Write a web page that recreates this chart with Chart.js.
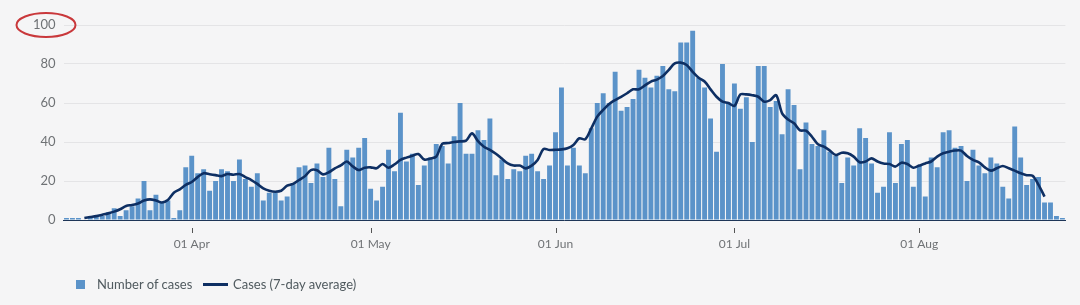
<!DOCTYPE html>
<html>
<head>
<meta charset="utf-8">
<script src="https://cdn.jsdelivr.net/npm/chart.js@4/dist/chart.umd.min.js"></script>
<style>
  html, body { margin: 0; padding: 0; background: #f5f5f6; }
  #wrap { position: relative; width: 1080px; height: 305px; background: #f5f5f6; font-family: Lato, "Noto Sans", sans-serif; }
  #cv { position: absolute; left: 0; top: 0; }
  #legend { position: absolute; left: 0; top: 274px; height: 22px; width: 1080px; font-size: 13px; color: #505a5f; }
  .sq { position: absolute; left: 76px; top: 6px; width: 9px; height: 9px; background: #5b93c9; }
  .ln { position: absolute; left: 203px; top: 9px; width: 25px; height: 3px; background: #0e2f63; }
  .t1 { position: absolute; left: 97px; top: 2px; }
  .t2 { position: absolute; left: 233px; top: 2px; }
</style>
</head>
<body>
<div id="wrap">
  <canvas id="cv" width="1080" height="305"></canvas>
  <div id="legend">
    <span class="sq"></span><span class="t1">Number of cases</span>
    <span class="ln"></span><span class="t2">Cases (7-day average)</span>
  </div>
</div>
<script>
// Categories: daily dates from 11 Mar to 25 Aug
const startDay = { month: 2, day: 11 };  // March (0-based month)
const dayCount = 168;
const monthNames = ["Jan","Feb","Mar","Apr","May","Jun","Jul","Aug","Sep","Oct","Nov","Dec"];

// Tick labels shown on the x axis
const tickLabels = ["01 Apr", "01 May", "01 Jun", "01 Jul", "01 Aug"];
const yTicks = [0, 20, 40, 60, 80, 100];

// Number of cases per day
const casesMar = [1,1,1,0,1,2,2,4,6,2,5,7,11,20,5,13,9,10,1,5,27];
const casesApr = [33,24,26,15,20,26,25,20,31,21,17,24,10,14,14,10,12,19,27,28,19,29,22,37,21,7,36,32,37,42];
const casesMay = [16,10,17,36,25,55,30,34,18,28,32,39,38,29,43,60,34,34,46,41,52,23,31,21,26,25,33,34,25,21,28];
const casesJun = [45,68,28,37,28,24,47,60,65,60,76,56,58,62,77,73,68,74,79,67,66,91,91,97,73,68,52,35,80,60];
const casesJul = [70,57,63,40,79,79,58,61,44,67,59,26,50,39,38,46,35,33,19,32,28,47,42,29,14,17,45,19,39,41,17];
const casesAug = [28,12,32,27,45,46,37,38,20,36,28,24,32,29,17,11,48,32,18,21,22,9,9,2,1];

// 7-day average per day
const avgMar = [null,null,null,1,1.5,2,2.7,3.4,4.3,5.5,7.2,7.7,8.5,10,10.6,10,9,10.3,14,15.7,18];
const avgApr = [19.5,22,24,23.5,23,22.5,23.6,23.2,23.6,22,20.5,18.5,16.2,15,14.5,15,17.6,18.5,20.5,22.5,25.6,25.5,23.4,24.5,26.5,28,30,27.5,25.6,26.8];
const avgMay = [27,26.5,28.7,26.8,28.5,30.8,32,33,33.8,31,31.5,32.5,39,39.5,40,40.3,40.7,44.4,40.5,37.6,36,34,31.5,29,27.9,27.9,26.5,27.9,30.8,36.4,35.9];
const avgJun = [36,36.2,36.8,38.5,41.9,41.4,47,53,56.5,59.5,61.5,63.2,65,67,67,69,71,72,73.8,77,80.3,80.7,79.5,76,73,71,67,63.2,60.7,60];
const avgJul = [58.5,64.4,64.4,64,63.2,60.7,61.5,64,54.7,51.5,49.6,46,45.8,42.7,38.8,37.6,35.6,33.3,34.5,34.2,32.5,29.6,30,31.6,30,29,28.7,27.4,29.4,28.7,26.8];
const avgAug = [27.9,29,30,32.5,34.2,35,35.6,35.6,32.8,30.8,29.6,27,25.3,26.5,27.7,26.5,25.3,24,23,22.7,18,12,null,null,null];

const categories = [];
for (let i = 0; i < dayCount; i++) {
  const d = new Date(Date.UTC(2020, startDay.month, startDay.day + i));
  categories.push(String(d.getUTCDate()).padStart(2, "0") + " " + monthNames[d.getUTCMonth()]);
}
const cases = [].concat(casesMar, casesApr, casesMay, casesJun, casesJul, casesAug);
const average = [].concat(avgMar, avgApr, avgMay, avgJun, avgJul, avgAug);

const BAR = "#5b93c9";
const LINE = "#0e2f63";
const TEXT = "#6f7275";

const extras = {
  id: "extras",
  afterDraw(chart) {
    const ctx = chart.ctx;
    const x = chart.scales.x, y = chart.scales.y;
    // tick marks under labelled dates
    ctx.save();
    ctx.strokeStyle = "#555";
    ctx.lineWidth = 1;
    x.ticks.forEach((t, i) => {
      if (tickLabels.includes(categories[t.value])) {
        const px = Math.round(x.getPixelForTick(i)) + 0.5;
        ctx.beginPath();
        ctx.moveTo(px, chart.chartArea.bottom + 8);
        ctx.lineTo(px, chart.chartArea.bottom + 13);
        ctx.stroke();
      }
    });
    // red ellipse highlighting the top tick label
    const cy = y.getPixelForValue(100);
    ctx.strokeStyle = "#c9383b";
    ctx.lineWidth = 2;
    ctx.beginPath();
    ctx.ellipse(y.right - 17.5, cy, 29.5, 12, 0, 0, Math.PI * 2);
    ctx.stroke();
    ctx.restore();
  }
};

new Chart(document.getElementById("cv"), {
  type: "bar",
  data: {
    labels: categories,
    datasets: [
      {
        type: "line",
        label: "Cases (7-day average)",
        data: average,
        borderColor: LINE,
        borderWidth: 2.6,
        pointRadius: 0,
        tension: 0.3,
        fill: false,
        order: 0
      },
      {
        type: "bar",
        label: "Number of cases",
        data: cases,
        backgroundColor: BAR,
        barPercentage: 0.82,
        categoryPercentage: 1.0,
        order: 1
      }
    ]
  },
  options: {
    responsive: false,
    animation: false,
    devicePixelRatio: 1,
    layout: { padding: { top: 25, right: 14.6, left: 0, bottom: 0 } },
    plugins: { legend: { display: false }, tooltip: { enabled: false } },
    scales: {
      x: {
        offset: true,
        grid: { display: false, drawTicks: false },
        border: { display: true, color: "#1d3557", width: 1 },
        ticks: {
          autoSkip: false,
          maxRotation: 0,
          padding: 17,
          color: TEXT,
          font: { family: "Lato", size: 12 },
          callback: function (v) {
            const lab = categories[v];
            return tickLabels.includes(lab) ? lab : "";
          }
        },
        afterFit(scale) { scale.height = 85; }
      },
      y: {
        min: 0, max: 100,
        afterBuildTicks(scale) { scale.ticks = yTicks.map(v => ({ value: v })); },
        grid: { color: "#e4e4e6", lineWidth: 1, drawTicks: false },
        border: { display: false },
        ticks: {
          padding: 8,
          color: TEXT,
          font: { family: "Lato", size: 13 }
        },
        afterFit(scale) { scale.width = 63.5; }
      }
    }
  },
  plugins: [extras]
});
</script>
</body>
</html>
